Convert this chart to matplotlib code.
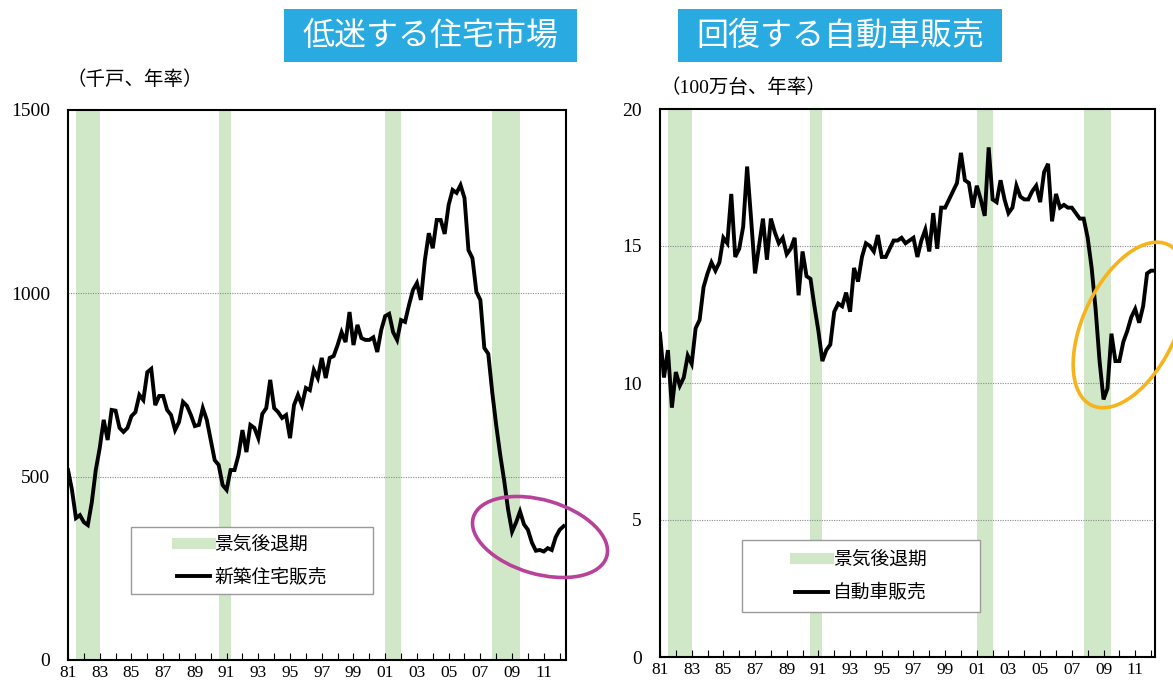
import numpy as np
import matplotlib
import matplotlib.pyplot as plt
from matplotlib.patches import Rectangle, Ellipse
from matplotlib.lines import Line2D

matplotlib.use("Agg")

JP = "Noto Sans CJK JP"
SERIF = "Liberation Serif"

# quarterly data, 1981Q1 ..
housing = [
    518, 464, 387, 395,  376, 368, 430, 518,  578, 655, 600, 682,
    680, 633, 622, 633,  665, 676, 723, 709,  785, 794, 695, 720,
    720, 682, 668, 627,  649, 704, 693, 668,  638, 641, 687, 655,
    600, 545, 532, 477,  464, 518, 518, 559,  627, 567, 641, 633,
    605, 671, 687, 764,  687, 676, 660, 668,  605, 695, 723, 695,
    742, 736, 791, 769,  824, 769, 824, 829,  859, 894, 867, 949,
    859, 914, 878, 873,  873, 880, 840, 900,  938, 944, 894, 873,
    927, 922, 968, 1009, 1028, 982, 1090, 1164, 1123, 1200, 1200, 1162,
    1241, 1282, 1274, 1295, 1260, 1118, 1096, 1004, 982, 851, 835, 730,
    640, 560, 490, 410,  350, 375, 405, 370,  355, 320, 298, 300,
    296, 305, 300, 335,  355, 365,
]
autos = [
    11.8, 10.2, 11.2, 9.1, 10.4, 9.9, 10.2, 11.0, 10.7, 12.0, 12.3, 13.5,
    14.0, 14.4, 14.1, 14.4, 15.3, 15.1, 16.9, 14.6, 14.9, 15.7, 17.9, 16.0,
    14.0, 15.0, 16.0, 14.5, 16.0, 15.5, 15.1, 15.3, 14.7, 14.9, 15.3, 13.2,
    14.8, 13.9, 13.8, 12.8, 11.9, 10.8, 11.2, 11.4, 12.6, 12.9, 12.8, 13.3,
    12.6, 14.2, 13.7, 14.6, 15.1, 15.0, 14.8, 15.4, 14.6, 14.6, 14.9, 15.2,
    15.2, 15.3, 15.1, 15.2, 15.3, 14.6, 15.2, 15.6, 14.8, 16.2, 14.9, 16.4,
    16.4, 16.7, 17.0, 17.3, 18.4, 17.4, 17.3, 16.4, 17.2, 16.7, 16.1, 18.6,
    16.7, 16.6, 17.4, 16.7, 16.2, 16.4, 17.2, 16.8, 16.7, 16.7, 17.0, 17.2,
    16.6, 17.7, 18.0, 15.9, 16.9, 16.4, 16.5, 16.4, 16.4, 16.2, 16.0, 16.0,
    15.3, 14.2, 12.7, 10.8, 9.4, 9.8, 11.8, 10.8, 10.8, 11.5, 11.9, 12.4,
    12.7, 12.2, 12.8, 14.0, 14.1, 14.1,
]
recessions = [(1981.5, 1983.0), (1990.5, 1991.25), (2001.0, 2002.0), (2007.75, 2009.5)]
tick_years = list(range(1981, 2013))
tick_labels = [f"{y % 100:02d}" if y % 2 == 1 else "" for y in tick_years]

t_house = 1981 + np.arange(len(housing)) / 4
t_auto = 1981 + np.arange(len(autos)) / 4

BAND = "#d0e8c8"
fig = plt.figure(figsize=(11.73, 6.84), dpi=100)


def make_panel(rect, t, y, xmax, ylim, yticks, grid, label, legend_box):
    ax = fig.add_axes(rect)
    for a, b in recessions:
        ax.axvspan(a, b, color=BAND, lw=0, zorder=0)
    for g in grid:
        ax.axhline(g, color="#8a8a8a", lw=0.8, ls=(0, (1, 1.2)), zorder=1)
    ax.plot(t, y, color="black", lw=2.8, zorder=3, solid_joinstyle="miter")
    ax.set_xlim(1981, xmax)
    ax.set_ylim(*ylim)
    ax.set_yticks(yticks)
    ax.set_xticks(tick_years, tick_labels)
    ax.tick_params(axis="x", direction="in", length=5, width=0.8, pad=3.5,
                   labelsize=12.5)
    ax.tick_params(axis="y", length=0, pad=13, labelsize=14)
    for lab in ax.get_xticklabels() + ax.get_yticklabels():
        lab.set_fontfamily(SERIF)
    for s in ax.spines.values():
        s.set_linewidth(1.5)
        s.set_color("black")

    # legend with its own white frame (covers the bands)
    x0, y0, w, h = legend_box
    ax.add_patch(Rectangle((x0, y0), w, h, transform=ax.transAxes, fc="white",
                           ec="#9a9a9a", lw=1.0, zorder=5))
    handles = [Line2D([], [], color=BAND, lw=8),
               Line2D([], [], color="black", lw=2.8)]
    leg = ax.legend(handles, ["景気後退期", label], loc="center",
                    bbox_to_anchor=(x0 + w / 2, y0 + h / 2), frameon=False,
                    prop={"family": JP, "size": 13.5}, handlelength=1.75,
                    handletextpad=0.25, labelspacing=0.65, borderpad=0)
    leg.set_zorder(6)
    return ax


ax1 = make_panel([68 / 1173, 24 / 684, 498 / 1173, 550 / 684], t_house, housing,
                 2012.4, (0, 1500), [0, 500, 1000, 1500], [500, 1000],
                 "新築住宅販売", (0.1265, 0.12, 0.486, 0.122))
ax2 = make_panel([660 / 1173, 27 / 684, 495 / 1173, 548 / 684], t_auto, autos,
                 2012.25, (0, 20), [0, 5, 10, 15, 20], [5, 10, 15],
                 "自動車販売", (0.1657, 0.082, 0.48, 0.1315))

fig.text(66 / 1173, 1 - 80 / 684, "（千戸、年率）", family=[SERIF, JP],
         fontsize=14, va="center", ha="left")
fig.text(660 / 1173, 1 - 88 / 684, "（100万台、年率）", family=[SERIF, JP],
         fontsize=14, va="center", ha="left")

# overlay in pixel units for title boxes and highlight ellipses
ov = fig.add_axes([0, 0, 1, 1], zorder=10)
ov.set_xlim(0, 1173)
ov.set_ylim(0, 684)
ov.axis("off")
ov.patch.set_alpha(0)

for (xa, xb), title in [((284, 577), "低迷する住宅市場"), ((678, 1002), "回復する自動車販売")]:
    ov.add_patch(Rectangle((xa, 684 - 62), xb - xa, 53, color="#29abe2", lw=0))
    ov.text((xa + xb) / 2, 684 - 36, title, color="white", family=JP,
            fontsize=23, ha="center", va="center")

ov.add_patch(Ellipse((540, 684 - 537), 139, 74, angle=-16.3, fill=False,
                     ec="#b8419a", lw=2.6))
ov.add_patch(Ellipse((1130, 684 - 325), 178, 93, angle=64.5, fill=False,
                     ec="#f7b31b", lw=2.6))

fig.savefig("out.png", dpi=100)
